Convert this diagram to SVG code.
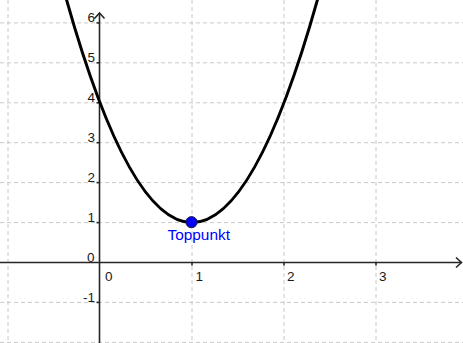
<svg xmlns="http://www.w3.org/2000/svg" width="463" height="343" viewBox="0 0 463 343">
<style>
.grid{stroke:#c8c8c8;stroke-width:1;stroke-dasharray:4,3;fill:none}
.axis{stroke:#262626;stroke-width:1.6;fill:none}
.tick{stroke:#262626;stroke-width:1.6}
.lbl{font-family:"Liberation Sans",Arial,sans-serif;font-size:13.5px;fill:#1a1a1a}
.ylbl{text-anchor:end}
</style>
<rect width="463" height="343" fill="#fff"/>
<g id="grid">
<line class="grid" x1="8" y1="0" x2="8" y2="343"/>
<line class="grid" x1="192" y1="0" x2="192" y2="343"/>
<line class="grid" x1="284" y1="0" x2="284" y2="343"/>
<line class="grid" x1="376" y1="0" x2="376" y2="343"/>
<line class="grid" x1="0" y1="22.9" x2="463" y2="22.9"/>
<line class="grid" x1="0" y1="62.8" x2="463" y2="62.8"/>
<line class="grid" x1="0" y1="102.8" x2="463" y2="102.8"/>
<line class="grid" x1="0" y1="142.7" x2="463" y2="142.7"/>
<line class="grid" x1="0" y1="182.6" x2="463" y2="182.6"/>
<line class="grid" x1="0" y1="222.6" x2="463" y2="222.6"/>
<line class="grid" x1="0" y1="302.4" x2="463" y2="302.4"/>
<line class="grid" x1="0" y1="342.4" x2="463" y2="342.4"/>
</g>
<g id="axes">
<line class="axis" x1="0" y1="262.5" x2="461" y2="262.5"/>
<polyline class="axis" points="456,257.5 461.5,262.5 456,267.5"/>
<line class="axis" x1="99.5" y1="343" x2="99.5" y2="13"/>
<polyline class="axis" points="94.5,18.5 99.5,13 104.5,18.5"/>
<g class="tick">
<line x1="192" y1="262.5" x2="192" y2="265.5"/>
<line x1="284" y1="262.5" x2="284" y2="265.5"/>
<line x1="376" y1="262.5" x2="376" y2="265.5"/>
<line x1="96.5" y1="22.9" x2="99.5" y2="22.9"/>
<line x1="96.5" y1="62.8" x2="99.5" y2="62.8"/>
<line x1="96.5" y1="102.8" x2="99.5" y2="102.8"/>
<line x1="96.5" y1="142.7" x2="99.5" y2="142.7"/>
<line x1="96.5" y1="182.6" x2="99.5" y2="182.6"/>
<line x1="96.5" y1="222.6" x2="99.5" y2="222.6"/>
<line x1="96.5" y1="302.4" x2="99.5" y2="302.4"/>
</g>
<text class="lbl ylbl" x="95" y="22">6</text>
<text class="lbl ylbl" x="95" y="62">5</text>
<text class="lbl ylbl" x="95" y="102">4</text>
<text class="lbl ylbl" x="95" y="142">3</text>
<text class="lbl ylbl" x="95" y="182">2</text>
<text class="lbl ylbl" x="95" y="222">1</text>
<text class="lbl ylbl" x="94.5" y="261.5">0</text>
<text class="lbl ylbl" x="95" y="301.5">-1</text>
<text class="lbl" x="105" y="281">0</text>
<text class="lbl" x="195.5" y="281">1</text>
<text class="lbl" x="287" y="281">2</text>
<text class="lbl" x="379" y="281">3</text>
</g>
<g id="curve">
<path d="M58.6,-29.3 Q192,474.4 325.4,-29.3" fill="none" stroke="#000" stroke-width="3"/>
</g>
<g id="toppunkt">
<circle cx="191.5" cy="222.2" r="5.6" fill="#0000ff" stroke="#1a1a40" stroke-width="1"/>
<text x="198.7" y="240" text-anchor="middle" font-family="Liberation Sans,Arial,sans-serif" font-size="15.4" fill="#0000ff">Toppunkt</text>
</g>
</svg>
